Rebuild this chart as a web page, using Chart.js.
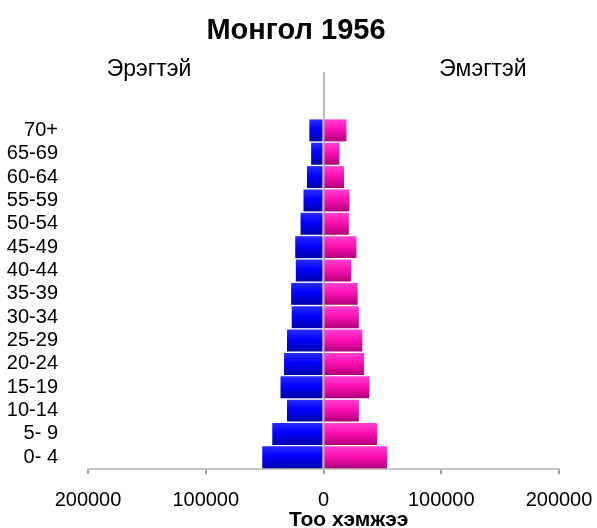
<!DOCTYPE html>
<html>
<head>
<meta charset="utf-8">
<script src="https://cdn.jsdelivr.net/npm/chart.js@4/dist/chart.umd.min.js"></script>
<style>
  body { margin: 0; background: #fff; }
  #wrap { width: 597px; height: 528px; }
</style>
</head>
<body>
<div id="wrap"><canvas id="myChart" width="597" height="528"></canvas></div>
<script>
// нас бүлэг (доороос дээш)
const categories = ['0- 4', '5- 9', '10-14', '15-19', '20-24', '25-29', '30-34', '35-39',
  '40-44', '45-49', '50-54', '55-59', '60-64', '65-69', '70+'];

// эрэгтэй - зүүн тал (сөрөг утгаар зурна)
const males = [52000, 43500, 31000, 36500, 33500, 31000, 27000, 27500,
  23500, 24000, 19500, 17000, 14000, 10500, 12000];

// эмэгтэй - баруун тал
const females = [54000, 45500, 30000, 39000, 34500, 33000, 30000, 29000,
  23500, 28000, 21500, 22000, 17500, 13500, 19500];

const xTicks = [-200000, -100000, 0, 100000, 200000];

const fontName = '"Liberation Sans", Arial, sans-serif';
const barPct = 0.94;

// босоо градиент багана бүрт
function gradient(c, top, mid, bottom) {
  const chart = c.chart;
  if (!chart.chartArea || c.type !== 'data') return mid;
  const y = chart.scales.y.getPixelForValue(c.dataIndex);
  const rowH = chart.chartArea.height / chart.scales.y.ticks.length;
  const h = rowH * barPct / 2;
  const g = chart.ctx.createLinearGradient(0, y - h, 0, y + h);
  g.addColorStop(0, top);
  g.addColorStop(0.45, mid);
  g.addColorStop(1, bottom);
  return g;
}

// гарчиг, хүйсийн нэр, тэнхлэгийн нэр
const texts = {
  id: 'texts',
  afterDraw(chart) {
    const ctx = chart.ctx;
    ctx.save();
    ctx.fillStyle = '#000';
    ctx.textBaseline = 'alphabetic';
    ctx.textAlign = 'center';
    ctx.font = 'bold 29px ' + fontName;
    ctx.fillText('Монгол 1956', 296, 39);
    ctx.font = '23px ' + fontName;
    ctx.fillText('Эрэгтэй', 149, 76);
    ctx.fillText('Эмэгтэй', 483, 76);
    ctx.textAlign = 'left';
    ctx.font = 'bold 21px ' + fontName;
    ctx.fillText('Тоо хэмжээ', 289, 526);
    ctx.restore();
  }
};

const labels = categories.concat(['', '']);

const data = {
  labels: labels,
  datasets: [{
    label: 'Эрэгтэй',
    data: males.map(v => -v),
    backgroundColor: c => gradient(c, '#2a2aff', '#0000ff', '#0000a8'),
    borderWidth: 0,
    barPercentage: barPct,
    categoryPercentage: 1
  }, {
    label: 'Эмэгтэй',
    data: females,
    backgroundColor: c => gradient(c, '#ff40d0', '#ff10b4', '#b00078'),
    borderWidth: 0,
    barPercentage: barPct,
    categoryPercentage: 1
  }]
};

const config = {
  type: 'bar',
  data: data,
  plugins: [texts],
  options: {
    indexAxis: 'y',
    responsive: false,
    animation: false,
    layout: { padding: { top: 72, right: 38, left: 0, bottom: 0 } },
    plugins: {
      legend: { display: false },
      title: { display: false },
      tooltip: { enabled: false }
    },
    scales: {
      x: {
        stacked: true,
        min: -200000,
        max: 200000,
        afterBuildTicks: s => { s.ticks = xTicks.map(v => ({ value: v })); },
        afterFit: s => { s.height = 59; s.paddingLeft = 0; s.paddingRight = 0; },
        ticks: {
          color: '#000',
          font: { family: fontName, size: 20 },
          padding: 14,
          maxRotation: 0,
          callback: v => Math.abs(v)
        },
        grid: {
          color: c => (c.tick && c.tick.value === 0) ? '#bbbbbb' : 'rgba(0,0,0,0)',
          lineWidth: 2,
          tickColor: '#a0a0a0',
          tickLength: 5,
          drawOnChartArea: true
        },
        border: { display: true, color: '#c4c4c4', width: 2 }
      },
      y: {
        stacked: true,
        reverse: true,
        afterFit: s => { s.width = 88; s.paddingTop = 0; s.paddingBottom = 0; },
        ticks: {
          color: '#000',
          font: { family: fontName, size: 20 },
          padding: 22,
          autoSkip: false
        },
        grid: { display: false },
        border: { display: false }
      }
    }
  }
};

const myChart = new Chart(document.getElementById('myChart'), config);
</script>
</body>
</html>
